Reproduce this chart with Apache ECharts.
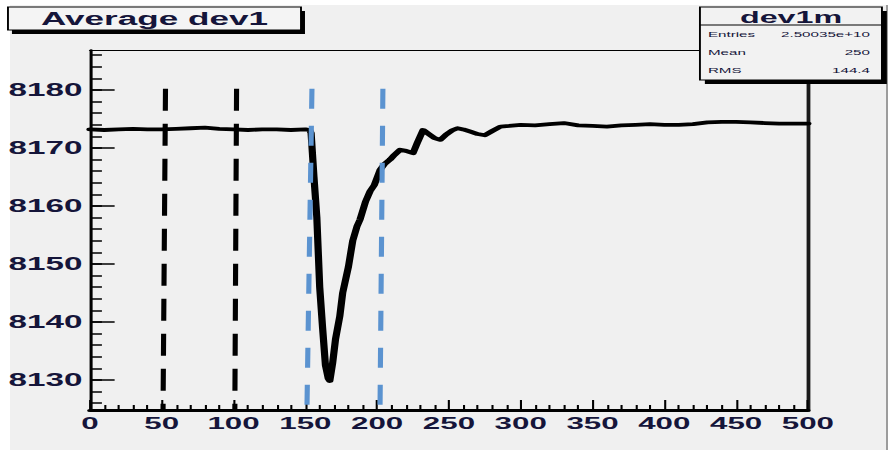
<!DOCTYPE html>
<html>
<head>
<meta charset="utf-8">
<script src="https://cdn.jsdelivr.net/npm/echarts@6/dist/echarts.min.js"></script>
<style>
  html, body { margin: 0; padding: 0; background: #ffffff; width: 892px; height: 450px; overflow: hidden; }
  #canvasBg { position: absolute; left: 10px; top: 5px; width: 876px; height: 445px; background: #f0f0f0; border-right: 2px solid #9c9c9c; }
  /* the ROOT canvas is laid out narrow and stretched sideways to the page width */
  #chart { position: absolute; left: 0; top: 0; width: 470px; height: 450px; transform: scaleX(1.89787); transform-origin: 0 0; }
</style>
</head>
<body>
<div id="canvasBg"></div>
<div id="chart"></div>
<script>
// bin centres and mean ADC value of dev1
const binX = [0, 10, 20, 30, 40, 50, 60, 70, 80, 90, 100, 110, 120, 130, 140, 150, 153,
  154, 156, 158, 160, 162, 164, 166, 167, 169, 171, 174, 176, 180, 183, 186, 188, 192, 195, 198,
  202, 205, 209, 212, 216, 220, 225, 228, 232, 236, 240, 244, 248, 252, 256, 260, 265, 270, 275,
  280, 286, 292, 300, 310, 320, 330, 340, 350, 360, 370, 380, 390, 400, 410, 420, 430, 440, 450,
  460, 470, 480, 490, 500];
const meanDev1 = [8173.2, 8173.1, 8173.2, 8173.3, 8173.2, 8173.2, 8173.3, 8173.4, 8173.5, 8173.3,
  8173.2, 8173.1, 8173.2, 8173.2, 8173.1, 8173.2, 8173.1,
  8172.6, 8165.0, 8158.0, 8146.0, 8139.0, 8132.5, 8130.2, 8129.8, 8132.9, 8137.0, 8141.0, 8145.0,
  8149.5, 8154.0, 8156.5, 8157.6, 8160.8, 8162.5, 8163.6,
  8166.2, 8167.2, 8168.0, 8168.8, 8169.7, 8169.5, 8169.1, 8170.9, 8173.1, 8172.4, 8171.7, 8171.4,
  8172.3, 8173.0, 8173.4, 8173.2, 8172.8, 8172.4, 8172.2,
  8172.9, 8173.7, 8173.8, 8174.0, 8173.9, 8174.1, 8174.3, 8173.9, 8173.8, 8173.7, 8173.9, 8174.0,
  8174.1, 8174.0, 8174.0, 8174.1, 8174.4, 8174.5, 8174.5,
  8174.4, 8174.3, 8174.2, 8174.2, 8174.2];

// axis ranges and tick values
const xRange = [0, 500];
const yRange = [8124.8, 8186.9];
const yLabelValues = [8130, 8140, 8150, 8160, 8170, 8180];
const yMinorValues = [8126, 8128, 8130, 8132, 8134, 8136, 8138, 8140, 8142, 8144, 8146, 8148,
  8150, 8152, 8154, 8156, 8158, 8160, 8162, 8164, 8166, 8168, 8170, 8172, 8174, 8176, 8178,
  8180, 8182, 8184, 8186];

// hand-drawn window markers: [x at top, x at bottom]
const blackWindows = [[52.6, 50.9], [102.1, 100.9]];
const blueWindows = [[154.6, 151.1], [204.0, 202.0]];
const markerTop = 8180.2;
const markerBottom = 8124.8;

// statistics box text
const histTitle = 'Average dev1';
const statsName = 'dev1m';
const statsRows = [['Entries', '2.50035e+10'], ['Mean', '250'], ['RMS', '144.4']];

const FONT = '"Liberation Sans", Arial, Helvetica, sans-serif';
const INK = '#15153a';

const chart = echarts.init(document.getElementById('chart'), null, { renderer: 'svg' });

function windowLines(list) {
  return list.map(w => [{ coord: [w[0], markerTop] }, { coord: [w[1], markerBottom] }]);
}

const statsGraphics = [];
statsRows.forEach((r, i) => {
  statsGraphics.push({
    type: 'text', z: 101, left: 373, top: 30 + i * 18,
    style: { text: r[0], font: '8px ' + FONT, fill: INK }
  });
  statsGraphics.push({
    type: 'text', z: 101, right: 11.6, top: 30 + i * 18,
    style: { text: r[1], font: '8px ' + FONT, fill: INK, textAlign: 'right' }
  });
});

const plainNumber = v => String(v);

chart.setOption({
  animation: false,
  backgroundColor: 'transparent',
  grid: { left: 47.4, right: 44.3, top: 50, bottom: 40, containLabel: false },
  xAxis: [
    {
      type: 'value', position: 'bottom', min: xRange[0], max: xRange[1], interval: 50,
      axisLine: { show: true, onZero: false, lineStyle: { color: '#000', width: 3 } },
      axisTick: { show: true, inside: true, length: 10, lineStyle: { color: '#000', width: 1.1 } },
      minorTick: { show: true, splitNumber: 5, length: 5, lineStyle: { color: '#000', width: 1.1 } },
      axisLabel: { show: true, margin: 5, formatter: plainNumber, color: INK, fontSize: 16.5, fontWeight: 'bold', fontFamily: FONT },
      splitLine: { show: false }, minorSplitLine: { show: false }
    },
    {
      type: 'value', position: 'top', min: xRange[0], max: xRange[1],
      axisLine: { show: true, onZero: false, lineStyle: { color: '#000', width: 1.2 } },
      axisTick: { show: false }, axisLabel: { show: false }, splitLine: { show: false }
    }
  ],
  yAxis: [
    {
      type: 'value', position: 'left', min: yRange[0], max: yRange[1],
      axisLine: { show: true, onZero: false, lineStyle: { color: '#000', width: 1.6 } },
      axisTick: { show: true, inside: true, length: 6.3, customValues: yMinorValues, lineStyle: { color: '#000', width: 1.5 } },
      axisLabel: { show: true, margin: 4, customValues: yLabelValues, formatter: plainNumber, color: INK, fontSize: 17.5, fontWeight: 'bold', fontFamily: FONT },
      splitLine: { show: false }
    },
    {
      type: 'value', position: 'left', min: yRange[0], max: yRange[1],
      axisLine: { show: false },
      axisTick: { show: true, inside: true, length: 13, customValues: yLabelValues, lineStyle: { color: '#000', width: 1.5 } },
      axisLabel: { show: false }, splitLine: { show: false }
    },
    {
      type: 'value', position: 'right', min: yRange[0], max: yRange[1],
      axisLine: { show: true, onZero: false, lineStyle: { color: '#1a1a1a', width: 2 } },
      axisTick: { show: false }, axisLabel: { show: false }, splitLine: { show: false }
    }
  ],
  series: [
    {
      type: 'line', xAxisIndex: 0, yAxisIndex: 0,
      data: binX.map((x, i) => [x, meanDev1[i]]),
      showSymbol: false, symbol: 'none',
      lineStyle: { color: '#000', width: 3.8, join: 'round', cap: 'round' },
      emphasis: { disabled: true },
      z: 3
    },
    {
      type: 'line', xAxisIndex: 0, yAxisIndex: 0, data: [], symbol: 'none', z: 4,
      markLine: {
        silent: true, symbol: 'none', animation: false,
        label: { show: false },
        data: windowLines(blackWindows),
        lineStyle: { color: '#000', width: 2.7, type: [22, 13] }
      }
    },
    {
      type: 'line', xAxisIndex: 0, yAxisIndex: 0, data: [], symbol: 'none', z: 5,
      markLine: {
        silent: true, symbol: 'none', animation: false,
        label: { show: false },
        data: windowLines(blueWindows),
        lineStyle: { color: '#5b93d0', width: 2.7, type: [20, 17] }
      }
    }
  ],
  graphic: [
    // histogram title pave with shadow
    { type: 'rect', z: 100, shape: { x: 6.3, y: 11, width: 154.4, height: 23 }, style: { fill: '#000' } },
    { type: 'rect', z: 100, shape: { x: 4.2, y: 7, width: 154.4, height: 23 }, style: { fill: '#f4f4f4', stroke: '#000', lineWidth: 1 } },
    { type: 'text', z: 101, x: 81.4, y: 19, style: { text: histTitle, font: 'bold 18.5px ' + FONT, fill: INK, textAlign: 'center', textVerticalAlign: 'middle' } },
    // statistics box with shadow
    { type: 'rect', z: 100, shape: { x: 371.4, y: 11, width: 95.9, height: 73 }, style: { fill: '#000' } },
    { type: 'rect', z: 100, shape: { x: 368.8, y: 7, width: 95.9, height: 73 }, style: { fill: '#f2f2f2', stroke: '#000', lineWidth: 1 } },
    { type: 'line', z: 101, shape: { x1: 368.8, y1: 25, x2: 464.7, y2: 25 }, style: { stroke: '#000', lineWidth: 1 } },
    { type: 'text', z: 101, x: 416.8, y: 17, style: { text: statsName, font: 'bold 17px ' + FONT, fill: INK, textAlign: 'center', textVerticalAlign: 'middle' } }
  ].concat(statsGraphics)
});
</script>
</body>
</html>
